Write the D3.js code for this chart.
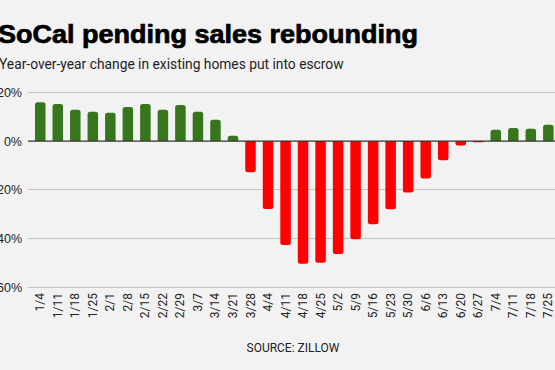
<!DOCTYPE html>
<html><head><meta charset="utf-8">
<script src="https://cdn.jsdelivr.net/npm/d3@7"></script>
<style>
html,body{margin:0;padding:0;background:#f2f2f2;overflow:hidden;}
</style></head>
<body>
<svg id="c" width="555" height="370"></svg>
<script>
const categories = ["1/4","1/11","1/18","1/25","2/1","2/8","2/15","2/22","2/29","3/7","3/14","3/21","3/28","4/4","4/11","4/18","4/25","5/2","5/9","5/16","5/23","5/30","6/6","6/13","6/20","6/27","7/4","7/11","7/18","7/25"];
const values = [15.9,15.2,12.8,12.0,11.6,14.0,15.2,12.8,14.8,12.0,8.7,2.2,-12.8,-27.9,-42.6,-50.3,-49.9,-46.3,-40.3,-34.1,-28.0,-21.1,-15.4,-7.9,-1.8,-0.5,4.6,5.4,5.0,6.7];
const yTicks = [20,0,-20,-40,-60];
const title = "SoCal pending sales rebounding";
const subtitle = "Year-over-year change in existing homes put into escrow";
const source = "SOURCE: ZILLOW";

const svg = d3.select("#c");
svg.append("rect").attr("width",555).attr("height",370).attr("fill","#f2f2f2");

const y = d3.scaleLinear().domain([-60,20]).range([287.3,92.3]);
const x = d3.scaleBand().domain(categories).range([31.5,557.1]).paddingInner(0.4).paddingOuter(0.2);

// gridlines
svg.append("g").selectAll("line").data(yTicks.filter(d=>d!==0)).join("line")
  .attr("x1",28).attr("x2",555).attr("y1",d=>y(d)).attr("y2",d=>y(d))
  .attr("stroke","#c3c3c3").attr("stroke-width",1).attr("shape-rendering","crispEdges");

// y labels
svg.append("g").selectAll("text").data(yTicks).join("text")
  .attr("x",22).attr("y",d=>y(d)+4.5).attr("text-anchor","end")
  .attr("font-family","Liberation Sans, Arial, sans-serif").attr("font-size",12.5).attr("fill","#222")
  .text(d=>d+"%");

// bars with rounded far end
const r = 2.5;
function barPath(d){
  const x0 = x(d.c), w = x.bandwidth(), y0 = y(0), y1 = y(d.v);
  const h = Math.abs(y1-y0);
  const rr = Math.min(r, h/2, w/2);
  if (d.v >= 0) {
    return `M${x0},${y0}V${y1+rr}Q${x0},${y1} ${x0+rr},${y1}H${x0+w-rr}Q${x0+w},${y1} ${x0+w},${y1+rr}V${y0}Z`;
  } else {
    return `M${x0},${y0}V${y1-rr}Q${x0},${y1} ${x0+rr},${y1}H${x0+w-rr}Q${x0+w},${y1} ${x0+w},${y1-rr}V${y0}Z`;
  }
}
svg.append("g").selectAll("path").data(categories.map((c,i)=>({c,v:values[i]}))).join("path")
  .attr("d",barPath).attr("fill",d=>d.v>=0?"#38761d":"#ff0000");

// zero line
svg.append("line").attr("x1",28).attr("x2",555).attr("y1",y(0)).attr("y2",y(0))
  .attr("stroke","#333").attr("stroke-width",1.2);

// x labels
svg.append("g").selectAll("text").data(categories).join("text")
  .attr("transform",d=>`translate(${x(d)+x.bandwidth()/2+4},293) rotate(-90)`)
  .attr("text-anchor","end")
  .attr("font-family","Roboto, sans-serif").attr("font-size",12).attr("fill","#222")
  .text(d=>d);

// title
svg.append("text").attr("x",-2).attr("y",43)
  .attr("font-family","Liberation Sans, Arial, sans-serif").attr("font-weight","bold")
  .attr("font-size",26).attr("fill","#000").attr("stroke","#000").attr("stroke-width",0.7)
  .attr("textLength",420).attr("lengthAdjust","spacingAndGlyphs")
  .text(title);

svg.append("text").attr("x",-1).attr("y",69)
  .attr("font-family","Roboto, sans-serif").attr("font-size",13.8).attr("fill","#222")
  .text(subtitle);

svg.append("text").attr("x",293).attr("y",352).attr("text-anchor","middle")
  .attr("font-family","Roboto, sans-serif").attr("font-size",12).attr("fill","#222")
  .text(source);
</script>
</body></html>
